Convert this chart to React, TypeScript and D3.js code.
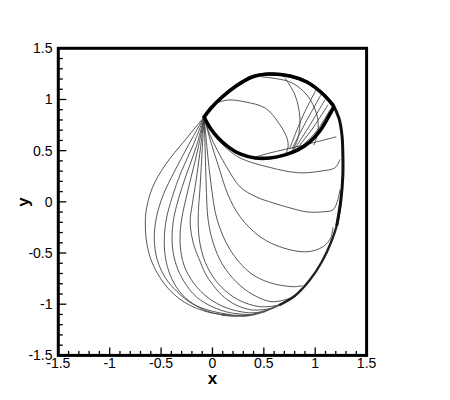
import React from "react";
import * as d3 from "d3";

type Pt = [number, number];

const xTicks = [-1.5, -1, -0.5, 0, 0.5, 1, 1.5];
const yTicks = [-1.5, -1, -0.5, 0, 0.5, 1, 1.5];
const xTickLabels = ["-1.5", "-1", "-0.5", "0", "0.5", "1", "1.5"];
const yTickLabels = ["-1.5", "-1", "-0.5", "0", "0.5", "1", "1.5"];

// outer bundle: bottom -> right side -> top -> start point
const outerBundle: Pt[] = [
  [0.094, -1.102], [0.318, -1.112], [0.492, -1.073], [0.657, -1.005], [0.803, -0.917],
  [0.949, -0.761], [1.065, -0.585], [1.152, -0.4], [1.211, -0.224], [1.25, 0.02],
  [1.269, 0.263], [1.269, 0.459], [1.26, 0.654], [1.23, 0.82], [1.172, 0.946],
  [1.065, 1.063], [0.919, 1.171], [0.754, 1.229], [0.56, 1.249], [0.385, 1.22],
  [0.23, 1.132], [0.094, 1.024], [-0.013, 0.917], [-0.081, 0.829],
];

// lower side of the closed loop
const loopBottom: Pt[] = [
  [-0.081, 0.829], [-0.022, 0.722], [0.056, 0.624], [0.153, 0.537], [0.269, 0.468],
  [0.415, 0.429], [0.56, 0.429], [0.706, 0.459], [0.832, 0.507], [0.948, 0.585],
  [1.045, 0.693], [1.123, 0.82], [1.181, 0.927],
];

const fan1: Pt[] = [[-0.081, 0.829], [-0.265, 0.605], [-0.459, 0.361], [-0.585, 0.137], [-0.644, -0.078], [-0.653, -0.224], [-0.644, -0.371], [-0.605, -0.546], [-0.527, -0.712], [-0.411, -0.868], [-0.265, -0.985], [-0.09, -1.063], [0.094, -1.102], [0.318, -1.112]];
const fan2: Pt[] = [[-0.081, 0.829], [-0.217, 0.585], [-0.362, 0.312], [-0.479, 0.068], [-0.546, -0.156], [-0.566, -0.371], [-0.537, -0.566], [-0.459, -0.741], [-0.343, -0.878], [-0.197, -0.995], [-0.022, -1.063], [0.172, -1.102]];
const fan3: Pt[] = [[-0.081, 0.829], [-0.187, 0.556], [-0.304, 0.293], [-0.391, 0.049], [-0.45, -0.176], [-0.469, -0.39], [-0.45, -0.585], [-0.391, -0.761], [-0.294, -0.907], [-0.158, -1.015], [-0.003, -1.083], [0.22, -1.112]];
const fan4: Pt[] = [[-0.081, 0.829], [-0.158, 0.537], [-0.255, 0.263], [-0.333, 0.02], [-0.382, -0.195], [-0.391, -0.42], [-0.353, -0.615], [-0.275, -0.78], [-0.158, -0.927], [-0.003, -1.024], [0.172, -1.083], [0.366, -1.102]];
const fan5: Pt[] = [[-0.081, 0.829], [-0.139, 0.527], [-0.207, 0.244], [-0.265, 0.0], [-0.304, -0.195], [-0.314, -0.42], [-0.275, -0.624], [-0.178, -0.8], [-0.042, -0.937], [0.133, -1.034], [0.347, -1.083], [0.512, -1.073]];
const fan6: Pt[] = [[-0.081, 0.829], [-0.119, 0.507], [-0.158, 0.215], [-0.197, -0.029], [-0.217, -0.195], [-0.187, -0.4], [-0.119, -0.585], [-0.051, -0.732], [0.143, -0.956], [0.366, -1.054], [0.56, -1.044]];
const fan7: Pt[] = [[-0.081, 0.829], [-0.1, 0.507], [-0.119, 0.166], [-0.139, -0.176], [-0.119, -0.42], [-0.051, -0.634], [0.075, -0.82], [0.25, -0.956], [0.463, -1.024], [0.677, -1.005]];
const fan8: Pt[] = [[-0.081, 0.829], [-0.071, 0.507], [-0.061, 0.166], [-0.042, -0.176], [0.007, -0.4], [0.094, -0.605], [0.23, -0.78], [0.395, -0.907], [0.58, -0.976], [0.774, -0.937]];
const fan9: Pt[] = [[-0.081, 0.829], [-0.051, 0.507], [-0.013, 0.166], [0.046, -0.176], [0.172, -0.468], [0.366, -0.693], [0.56, -0.79], [0.784, -0.829], [0.871, -0.82]];
const fan10: Pt[] = [[-0.081, 0.829], [-0.022, 0.605], [0.055, 0.361], [0.152, 0.068], [0.269, -0.146], [0.463, -0.341], [0.686, -0.449], [0.919, -0.488], [1.075, -0.439], [1.152, -0.351], [1.172, -0.254]];
const fan11: Pt[] = [[-0.081, 0.829], [-0.032, 0.673], [0.046, 0.507], [0.143, 0.332], [0.269, 0.146], [0.424, 0.049], [0.589, -0.01], [0.754, -0.059], [0.919, -0.098], [1.065, -0.098], [1.172, -0.078], [1.22, 0.02], [1.24, 0.117]];
const fan12: Pt[] = [[-0.081, 0.829], [-0.003, 0.683], [0.114, 0.546], [0.25, 0.439], [0.395, 0.38], [0.541, 0.341], [0.706, 0.302], [0.871, 0.283], [1.065, 0.302], [1.191, 0.332], [1.24, 0.41]];
const branch: Pt[] = [[0.424, 0.439], [0.56, 0.478], [0.851, 0.546], [1.201, 0.634]];

const inner1: Pt[] = [[0.007, 0.956], [0.152, 0.995], [0.318, 0.976], [0.512, 0.917], [0.638, 0.78], [0.725, 0.624], [0.735, 0.527], [0.706, 0.459]];
const inner2: Pt[] = [[0.483, 1.22], [0.754, 1.171], [0.919, 1.044], [1.016, 0.849], [1.026, 0.683], [0.987, 0.556]];
const inner3: Pt[] = [[0.706, 1.21], [0.803, 1.044], [0.851, 0.82], [0.832, 0.624], [0.774, 0.488]];
const inner4: Pt[] = [[1.007, 1.093], [0.871, 0.82], [0.754, 0.527]];
const inner5: Pt[] = [[1.055, 1.044], [0.909, 0.78], [0.774, 0.517]];
const inner6: Pt[] = [[1.094, 0.995], [0.949, 0.751], [0.793, 0.507]];
const inner7: Pt[] = [[1.123, 0.946], [0.978, 0.722], [0.813, 0.507]];
const inner8: Pt[] = [[1.143, 0.898], [1.007, 0.683], [0.832, 0.507]];

const thinCurves: Pt[][] = [
  fan1, fan2, fan3, fan4, fan5, fan6, fan7, fan8, fan9, fan10, fan11, fan12, branch,
  inner1, inner2, inner3, inner4, inner5, inner6, inner7, inner8,
];

export default function App() {
  const W = 450, H = 400;
  const x = d3.scaleLinear().domain([-1.5, 1.5]).range([58.3, 366.6]);
  const y = d3.scaleLinear().domain([-1.5, 1.5]).range([355.4, 48.3]);
  const line = d3
    .line<Pt>()
    .x((d) => x(d[0]))
    .y((d) => y(d[1]))
    .curve(d3.curveCatmullRom.alpha(0.5));

  const minor = d3.range(-15, 16).map((i) => i / 10);
  const font = "'Liberation Sans', Arial, Helvetica, sans-serif";

  return (
    <svg width={W} height={H} style={{ display: "block", position: "absolute", left: 0, top: 0 }}>
      <rect width={W} height={H} fill="#fff" />
      {/* curves */}
      <g fill="none" strokeLinejoin="round" strokeLinecap="round">
        {thinCurves.map((c, i) => (
          <path key={i} d={line(c) || ""} stroke="#3a3a3a" strokeWidth={0.85} />
        ))}
        <path d={line(outerBundle.slice(0, 5)) || ""} stroke="#555" strokeWidth={2} />
        <path d={line(outerBundle.slice(3, 10)) || ""} stroke="#222" strokeWidth={2.4} />
        <path d={line(outerBundle.slice(8)) || ""} stroke="#111" strokeWidth={3} />
        <path d={line(outerBundle.slice(14)) || ""} stroke="#000" strokeWidth={3.6} />
        <path d={line(loopBottom) || ""} stroke="#000" strokeWidth={3.6} />
      </g>
      {/* frame */}
      <rect
        x={x(-1.5)}
        y={y(1.5)}
        width={x(1.5) - x(-1.5)}
        height={y(-1.5) - y(1.5)}
        fill="none"
        stroke="#000"
        strokeWidth={3}
      />
      {/* ticks */}
      <g stroke="#000" strokeWidth={1.3}>
        {minor.map((v, i) => {
          const major = Math.abs(v * 2 - Math.round(v * 2)) < 1e-6;
          const len = major ? 8 : 4.5;
          return (
            <g key={i}>
              <line x1={x(v)} x2={x(v)} y1={y(-1.5)} y2={y(-1.5) - len} />
              <line x1={x(-1.5)} x2={x(-1.5) + len} y1={y(v)} y2={y(v)} />
            </g>
          );
        })}
      </g>
      {/* tick labels */}
      <g fontFamily={font} fontSize={14} fill="#000">
        {xTicks.map((v, i) => (
          <text key={"x" + i} x={x(v)} y={368} textAnchor="middle">
            {xTickLabels[i]}
          </text>
        ))}
        {yTicks.map((v, i) => (
          <text key={"y" + i} x={52.5} y={y(v) + 5} textAnchor="end">
            {yTickLabels[i]}
          </text>
        ))}
      </g>
      {/* axis titles */}
      <text x={212.5} y={384} textAnchor="middle" fontFamily={font} fontWeight="bold" fontSize={17}>
        x
      </text>
      <text
        transform="translate(29,202) rotate(-90)"
        textAnchor="middle"
        fontFamily={font}
        fontWeight="bold"
        fontSize={17}
      >
        y
      </text>
    </svg>
  );
}
